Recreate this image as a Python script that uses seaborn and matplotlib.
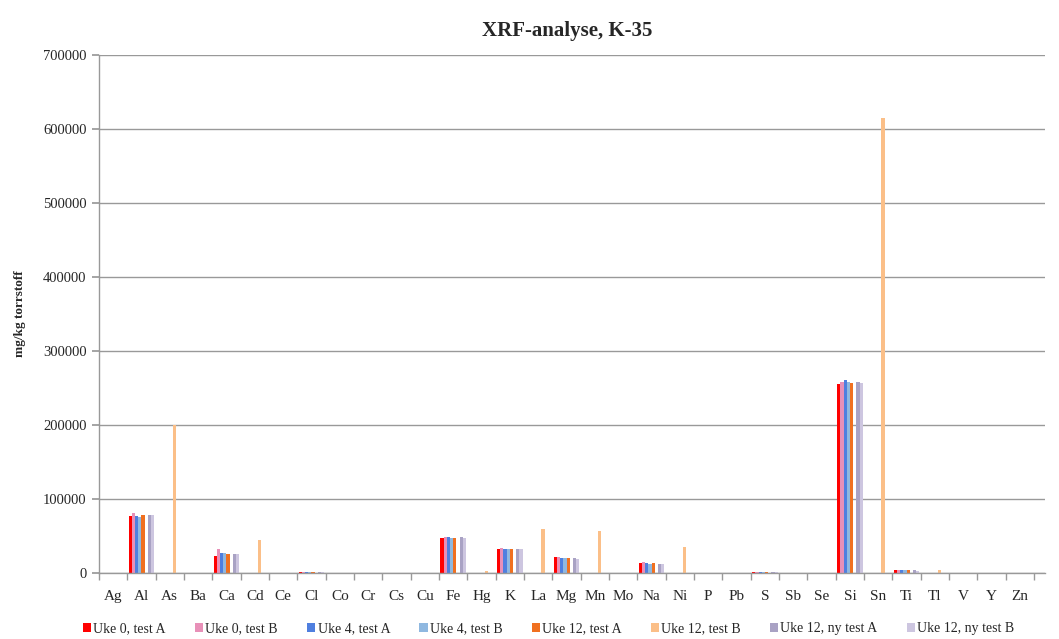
import numpy as np
import pandas as pd
import matplotlib
matplotlib.use("Agg")
import matplotlib.pyplot as plt
import seaborn as sns
from matplotlib.patches import Patch

elements = ["Ag", "Al", "As", "Ba", "Ca", "Cd", "Ce", "Cl", "Co", "Cr", "Cs", "Cu",
            "Fe", "Hg", "K", "La", "Mg", "Mn", "Mo", "Na", "Ni", "P", "Pb", "S",
            "Sb", "Se", "Si", "Sn", "Ti", "Tl", "V", "Y", "Zn"]

series_names = ["Uke 0, test A", "Uke 0, test B", "Uke 4, test A", "Uke 4, test B",
                "Uke 12, test A", "Uke 12, test B", "Uke 12, ny test A", "Uke 12, ny test B"]

uke0_a = [0, 77000, 0, 500, 22600, 0, 0, 800, 0, 100, 0, 100,
          47500, 0, 33000, 0, 21000, 300, 0, 13500, 100, 500, 50, 1500,
          0, 0, 255000, 0, 4000, 0, 100, 50, 100]
uke0_b = [0, 81000, 0, 500, 33000, 0, 0, 900, 0, 100, 0, 100,
          48500, 0, 33500, 0, 21500, 300, 0, 15000, 100, 500, 50, 1600,
          0, 0, 258000, 0, 4500, 0, 100, 50, 100]
uke4_a = [0, 77000, 0, 500, 26500, 0, 0, 800, 0, 100, 0, 100,
          48000, 0, 33000, 0, 20500, 300, 0, 13000, 100, 500, 50, 1500,
          0, 0, 261000, 0, 4200, 0, 100, 50, 100]
uke4_b = [0, 75000, 0, 500, 26500, 0, 0, 800, 0, 100, 0, 100,
          47500, 0, 32500, 0, 20000, 300, 0, 12500, 100, 500, 50, 1500,
          0, 0, 258500, 0, 4000, 0, 100, 50, 100]
uke12_a = [0, 78000, 0, 500, 26000, 0, 0, 800, 0, 100, 0, 100,
           47500, 0, 33000, 0, 20500, 300, 0, 13000, 100, 500, 50, 1500,
           0, 0, 256700, 0, 4000, 0, 100, 50, 100]
uke12_b = [0, 0, 200000, 0, 0, 45000, 0, 0, 0, 0, 0, 0,
           0, 3000, 0, 60000, 0, 57000, 0, 0, 35000, 0, 0, 0,
           0, 0, 0, 615000, 0, 4000, 0, 0, 0]
uke12_ny_a = [0, 79000, 0, 500, 25500, 0, 0, 800, 0, 100, 0, 100,
              48000, 0, 32500, 0, 20000, 300, 0, 12000, 100, 500, 50, 1500,
              0, 0, 258500, 0, 3500, 0, 100, 50, 100]
uke12_ny_b = [0, 79000, 0, 500, 25000, 0, 0, 800, 0, 100, 0, 100,
              47500, 0, 32000, 0, 19500, 300, 0, 11500, 100, 500, 50, 1500,
              0, 0, 257000, 0, 3000, 0, 100, 50, 100]

all_series = [uke0_a, uke0_b, uke4_a, uke4_b, uke12_a, uke12_b, uke12_ny_a, uke12_ny_b]
colors = ["#ff0000", "#e890b8", "#4f7fdf", "#8fb8e0",
          "#f07020", "#fbbf88", "#a9a2c4", "#cdc6e0"]

rows = []
for name, vals in zip(series_names, all_series):
    for el, v in zip(elements, vals):
        rows.append({"Element": el, "Serie": name, "Verdi": v})
df = pd.DataFrame(rows)

sns.set_theme(style="white")
plt.rcParams["font.family"] = ["Liberation Serif", "DejaVu Serif"]

fig = plt.figure(figsize=(10.59, 6.39), dpi=100)
ax = fig.add_axes([0.0934, 0.1033, 0.8936, 0.8107])

sns.barplot(data=df, x="Element", y="Verdi", hue="Serie", order=elements,
            hue_order=series_names, palette=colors, width=0.9,
            saturation=1, errorbar=None, ax=ax, legend=False, linewidth=0)

ax.set_ylim(0, 700000)
ax.set_xlim(-0.5, 32.89)
ax.set_yticks(np.arange(0, 700001, 100000))
ax.set_yticklabels([str(v) for v in range(0, 700001, 100000)], fontsize=10.5)
ax.yaxis.grid(True, color="#999999", linewidth=1)
ax.set_axisbelow(True)
ax.tick_params(axis="y", left=True, length=5, color="#999999", pad=4)
ax.tick_params(axis="x", bottom=False, labelsize=11, pad=6)
ax.set_xticks(np.arange(len(elements)))
ax.set_xticklabels(elements)
ax.set_xticks(np.arange(-0.5, len(elements), 1), minor=True)
ax.tick_params(axis="x", which="minor", bottom=True, length=5, color="#999999")

for s in ["top", "right"]:
    ax.spines[s].set_visible(False)
for s in ["left", "bottom"]:
    ax.spines[s].set_color("#999999")
    ax.spines[s].set_linewidth(1)

ax.set_xlabel("")
ax.set_ylabel("mg/kg torrstoff", fontsize=9.5, fontweight="bold", labelpad=12)
fig.text(0.536, 0.952, "XRF-analyse, K-35", ha="center", va="center",
         fontsize=15, fontweight="bold")

handles = [Patch(facecolor=c, edgecolor="none") for c in colors]
fig.legend(handles, series_names, loc="center", bbox_to_anchor=(0.518, 0.016),
           ncol=8, frameon=False, fontsize=10, handlelength=0.6, handleheight=0.6,
           handletextpad=0.15, columnspacing=2.1)

fig.savefig("out.png", dpi=100)
